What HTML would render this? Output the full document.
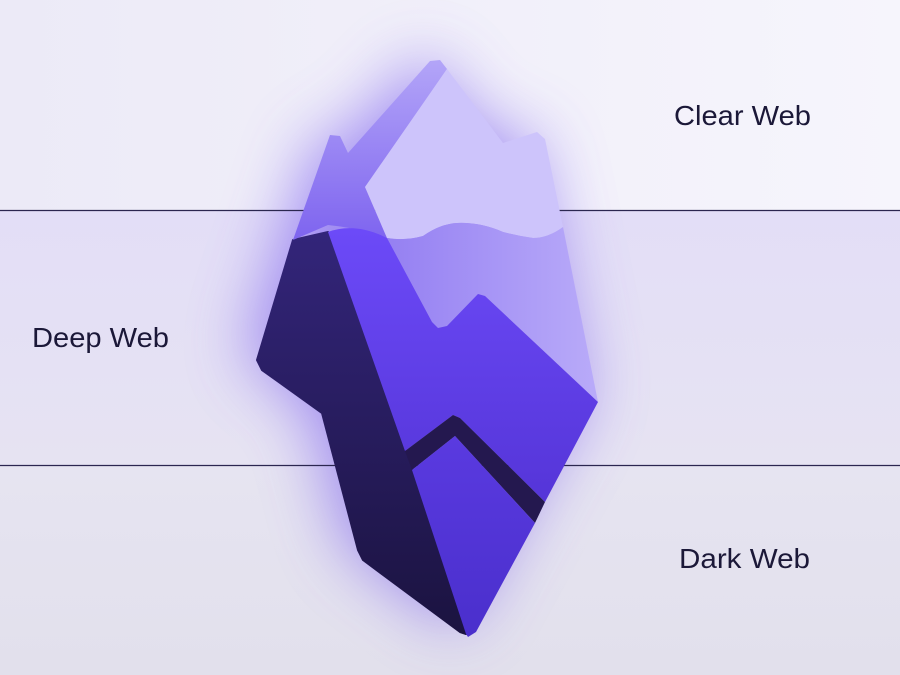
<!DOCTYPE html>
<html><head><meta charset="utf-8"><style>
html,body{margin:0;padding:0;width:900px;height:675px;overflow:hidden;background:#ebe8f6}
svg{display:block}
</style></head><body>
<svg width="900" height="675" viewBox="0 0 900 675" xmlns="http://www.w3.org/2000/svg">
<defs>
<linearGradient id="bgTop" x1="0" y1="0" x2="1" y2="0"><stop offset="0" stop-color="#eceaf7"/><stop offset="1" stop-color="#f6f5fc"/></linearGradient>
<linearGradient id="bgMid" x1="0" y1="0" x2="0" y2="1"><stop offset="0" stop-color="#e3def7"/><stop offset="1" stop-color="#e6e3f2"/></linearGradient>
<linearGradient id="bgBot" x1="0" y1="0" x2="0" y2="1"><stop offset="0" stop-color="#e6e4f1"/><stop offset="1" stop-color="#e2e0ec"/></linearGradient>
<filter id="blur" x="-50%" y="-50%" width="200%" height="200%"><feGaussianBlur stdDeviation="32"/></filter>
<linearGradient id="dark" x1="0" y1="0" x2="0" y2="1"><stop offset="0" stop-color="#33257a"/><stop offset="1" stop-color="#1b1340"/></linearGradient>
<linearGradient id="bright" x1="0" y1="0" x2="0" y2="1"><stop offset="0" stop-color="#6c4af8"/><stop offset="1" stop-color="#5535d8"/></linearGradient>
<linearGradient id="bright2" x1="0" y1="0" x2="0" y2="1"><stop offset="0" stop-color="#5a3ae0"/><stop offset="1" stop-color="#4a2fcc"/></linearGradient>
<linearGradient id="topL" x1="0" y1="0" x2="0" y2="1"><stop offset="0" stop-color="#b3a5f8"/><stop offset="1" stop-color="#7e64ef"/></linearGradient>
<linearGradient id="midF" x1="0" y1="0" x2="1" y2="0"><stop offset="0" stop-color="#9580f2"/><stop offset="1" stop-color="#b9abf9"/></linearGradient>
</defs>
<rect x="0" y="0" width="900" height="210" fill="url(#bgTop)"/>
<rect x="0" y="210" width="900" height="255" fill="url(#bgMid)"/>
<rect x="0" y="465" width="900" height="210" fill="url(#bgBot)"/>
<path d="M437,60 L503,143 L545,139 L598,402 L470,636 L358,552 L322,413 L257,360 L332,134 L348,153 Z" fill="#6f50ee" opacity="0.6" filter="url(#blur)" transform="translate(-12,-6)"/>
<line x1="0" y1="210.5" x2="900" y2="210.5" stroke="#2b2650" stroke-width="1.3"/>
<line x1="0" y1="465.5" x2="900" y2="465.5" stroke="#2b2650" stroke-width="1.3"/>
<path d="M293,240 L328,232 L405,451 L412,470 L466,634 L460,632 L363,560 L358,550 L322,413 L262,370 L257,360 Z" fill="url(#dark)" stroke="url(#dark)" stroke-width="2" stroke-linejoin="round"/>
<path d="M293,240 L330,135 L340,136 L348,153 L430,61 L440,60 L447,69 L365,187 L387,238 Q360,228 328,225 Z" fill="url(#topL)" stroke-linejoin="round"/>
<path d="M365,187 L447,69 L503,143 L537,132 L545,139 L563,227 Q548,238 533,238 Q518,236 503,232 Q480,222 457,223 Q440,224 423,236 Q405,241 387,238 Z" fill="#cdc4fb"/>
<path d="M387,238 Q405,241 423,236 Q440,224 457,223 Q480,222 503,232 Q518,236 533,238 Q548,238 563,227 L598,402 L485,296 L478,294 L447,326 L438,328 L432,322 Z" fill="url(#midF)"/>
<path d="M328,232 Q355,222 387,238 L432,322 L438,328 L447,326 L478,294 L485,296 L598,402 L545,502 L460,418 L453,415 L405,451 Z" fill="url(#bright)"/>
<path d="M405,451 L453,415 L460,418 L545,502 L535,523 L455,436 L412,470 Z" fill="#24184f"/>
<path d="M412,470 L455,436 L535,523 L476,632 L468,637 L466,634 Z" fill="url(#bright2)"/>
<g font-family="'Liberation Sans', sans-serif" font-size="28" fill="#1b1838">
<text x="674" y="125" textLength="137" lengthAdjust="spacingAndGlyphs">Clear Web</text>
<text x="32" y="347" textLength="137" lengthAdjust="spacingAndGlyphs">Deep Web</text>
<text x="679" y="568" textLength="131" lengthAdjust="spacingAndGlyphs">Dark Web</text>
</g>
</svg>
</body></html>
